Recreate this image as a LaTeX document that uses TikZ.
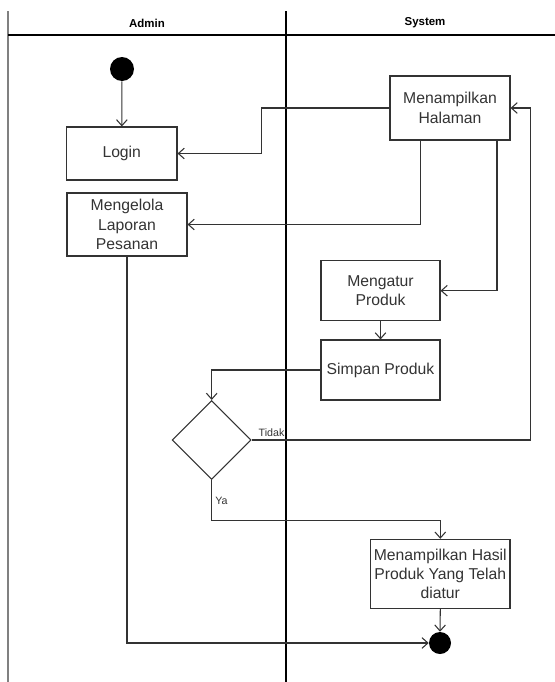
\documentclass[tikz,border=0pt]{standalone}
\usepackage{fontspec}
\setmainfont{Liberation Sans}
\usetikzlibrary{arrows.meta,shapes.geometric}
\definecolor{ink}{HTML}{333333}
\tikzset{
  act/.style={draw=ink, line width=0.8pt, text=ink, align=center, inner sep=1pt,
    font=\fontsize{11.8}{14.6}\selectfont},
  conn/.style={draw=ink, line width=0.8pt, -{Straight Barb[length=4.5pt,width=8pt]}},
  lane/.style={font=\bfseries\fontsize{8.6}{10}\selectfont, text=black},
  guard/.style={font=\fontsize{8}{9.5}\selectfont, text=ink, inner sep=1pt},
  dot/.style={circle, fill=black, draw=none, inner sep=0pt}
}
\begin{document}
\begin{tikzpicture}[x=0.75pt,y=-0.75pt]
\useasboundingbox (0,0) rectangle (555,682);
% swimlane frame
\draw[line width=1.6pt, draw=black!50] (8,11) -- (8,682);
\draw[line width=1.6pt, draw=black] (286,11) -- (286,682);
\draw[line width=0.8pt, draw=black] (8,35) -- (555,35);
\node[lane] (hadmin) at (147,23) {Admin};
\node[lane] (hsys) at (425,23) {System};

% nodes
\node[dot, minimum size=18pt] (start) at (122,69) {};
\node[act, minimum width=82.9pt, minimum height=39.75pt] (login) at (121.75,153.5) {Login};
\node[act, minimum width=90pt, minimum height=47.25pt] (kelola) at (127,224.5) {Mengelola\\Laporan\\Pesanan};
\node[act, minimum width=90pt, minimum height=48pt, font=\fontsize{11.8}{15.4}\selectfont] (menu) at (450,108) {Menampilkan\\Halaman};
\node[act, minimum width=89.25pt, minimum height=45pt] (atur) at (380.5,290.7) {Mengatur\\Produk};
\node[act, minimum width=89.25pt, minimum height=45pt] (simpan) at (380.5,370) {Simpan Produk};
\node[diamond, draw=ink, line width=0.8pt, minimum width=59.25pt, minimum height=59.25pt, inner sep=0pt] (dec) at (211.7,440) {};
\node[act, minimum width=104.5pt, minimum height=52pt, font=\fontsize{11.8}{14}\selectfont] (hasil) at (440.3,574) {Menampilkan Hasil\\Produk Yang Telah\\diatur};
\node[dot, minimum size=16.5pt] (end) at (440,643) {};

% connectors
\draw[conn] (start) -- (login);
\draw[conn] (menu.west) -- ++(-128,0) |- (login.east);
\draw[conn] ([xshift=-22.1pt]menu.south) |- (kelola.east);
\draw[conn] ([xshift=35.25pt]menu.south) |- (atur.east);
\draw[conn] (atur.south) -- (simpan.north);
\draw[conn] (simpan.west) -| (dec.north);
\draw[conn] (dec.east) -- ++(279,0) |- (menu.east);
\node[guard, anchor=south west] (ltidak) at ([xshift=4pt,yshift=1pt]dec.east) {Tidak};
\draw[conn] (dec.south) -- ++(0,40) -| (hasil.north);
\node[guard, anchor=west] (lya) at ([xshift=1.5pt,yshift=-15.5pt]dec.south) {Ya};
\draw[conn] (hasil.south) -- (end.north);
\draw[conn] (kelola.south) |- (end.west);
\end{tikzpicture}
\end{document}
